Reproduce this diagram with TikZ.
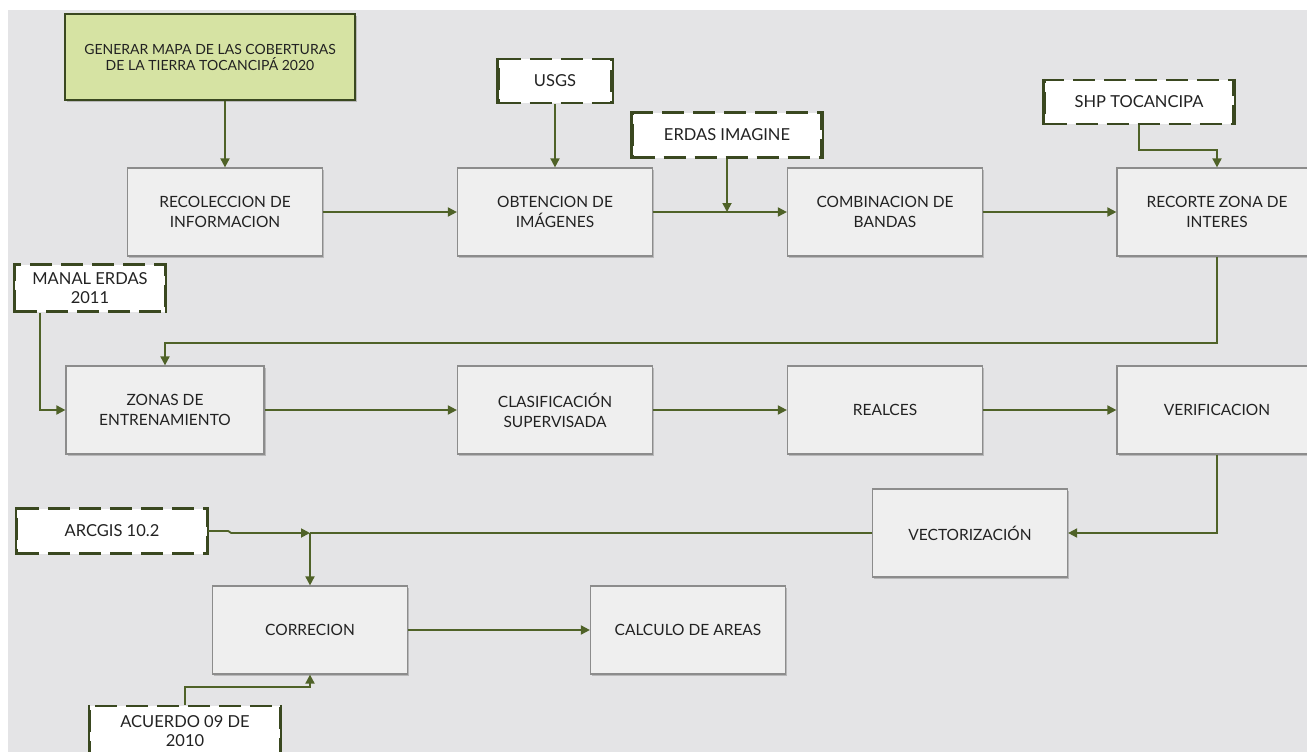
\documentclass[tikz,border=0pt]{standalone}
\usepackage{fontspec}
\setmainfont{Lato}
\usetikzlibrary{shadows,arrows.meta}
\definecolor{bg}{HTML}{E4E4E6}
\definecolor{boxfill}{HTML}{EFEFEF}
\definecolor{boxline}{HTML}{8C8C8C}
\definecolor{olive}{HTML}{4F6228}
\definecolor{darkolive}{HTML}{3A4820}
\definecolor{genfill}{HTML}{D6E3A3}
\definecolor{txt}{HTML}{222222}
\tikzset{
  proc/.style={rectangle, fill=boxfill, draw=boxline, line width=1.2pt,
    minimum width=195pt, minimum height=88pt, align=center, inner sep=0pt,
    font=\fontsize{15.5}{20}\selectfont, text=txt,
    drop shadow={shadow xshift=1.5pt, shadow yshift=-1.5pt, opacity=0.35, fill=black!60}},
  src/.style={rectangle, fill=white, draw=darkolive, line width=2.4pt,
    dash pattern=on 22pt off 9pt, align=center, inner sep=0pt,
    font=\fontsize{16.5}{19}\selectfont, text=txt},
  side/.style={draw=darkolive, line width=2.4pt},
  conn/.style={draw=olive, line width=1.8pt, -{Triangle[length=9pt,width=9pt]}},
  plain/.style={draw=olive, line width=1.8pt},
}
\newcommand{\srcsides}[1]{%
  \draw[side] (#1.north west) -- (#1.south west);
  \draw[side] (#1.north east) -- (#1.south east);}
\begin{document}
\begin{tikzpicture}[x=1pt,y=-1pt]
\useasboundingbox (0,0) rectangle (1307,752);
\fill[white] (0,0) rectangle (1307,752);
\fill[bg] (8,10) rectangle (1307,752);
\begin{scope}
\clip (0,0) rectangle (1307,752);
% main title
\node[rectangle, fill=genfill, draw=darkolive, line width=2.4pt, minimum width=290pt, minimum height=86pt,
  align=center, inner sep=0pt, font=\fontsize{14}{16}\selectfont, text=txt,
  drop shadow={shadow xshift=2pt, shadow yshift=-2pt, opacity=0.35, fill=black!60}]
  (gen) at (210,57) {GENERAR MAPA DE LAS COBERTURAS\\DE LA TIERRA TOCANCIPÁ 2020};
% row 1
\node[proc] (reco) at (225,212) {RECOLECCION DE\\INFORMACION};
\node[proc] (obt) at (555,212) {OBTENCION DE\\IMÁGENES};
\node[proc] (comb) at (885,212) {COMBINACION DE\\BANDAS};
\node[proc, minimum width=200pt] (rec) at (1217,212) {RECORTE ZONA DE\\INTERES};
% row 2
\node[proc, minimum width=198pt] (zon) at (165,410) {ZONAS DE\\ENTRENAMIENTO};
\node[proc] (cla) at (555,410) {CLASIFICACIÓN\\SUPERVISADA};
\node[proc] (rea) at (885,410) {REALCES};
\node[proc, minimum width=200pt] (ver) at (1217,410) {VERIFICACION};
% row 3/4
\node[proc] (vec) at (970,533) {VECTORIZACIÓN};
\node[proc] (cor) at (310,630) {CORRECION};
\node[proc] (cal) at (688,630) {CALCULO DE AREAS};
% sources
\node[src, minimum width=113pt, minimum height=44pt] (usgs) at (555,81) {USGS};
\node[src, minimum width=189pt, minimum height=45pt] (erd) at (727,135) {ERDAS IMAGINE};
\node[src, minimum width=189pt, minimum height=44pt] (shp) at (1139,102) {SHP TOCANCIPA};
\node[src, minimum width=150pt, minimum height=47pt] (man) at (90,288) {MANAL ERDAS\\2011};
\node[src, minimum width=190pt, minimum height=45pt] (arc) at (112,531) {ARCGIS 10.2};
\node[src, minimum width=190pt, minimum height=50pt] (acu) at (185,731) {ACUERDO 09 DE\\2010};
\srcsides{usgs}\srcsides{erd}\srcsides{shp}\srcsides{man}\srcsides{arc}\srcsides{acu}
% coordinates
\coordinate (j1) at (727,212);
\coordinate (j2) at (310,533);
% connectors
\draw[conn] (gen.south -| reco.north) -- (reco.north);
\draw[conn] (reco) -- (obt);
\draw[conn] (usgs) -- (obt);
\draw[conn] (obt) -- (comb);
\draw[conn] (erd) -- (j1);
\draw[conn] (comb) -- (rec);
\draw[conn] (shp.south) -- ++(0,25) -| (rec.north);
\draw[conn] (rec.south) -- ++(0,86) -| (zon.north);
\draw[conn] (man.south -| 40,0) |- (zon.west);
\draw[conn] (zon) -- (cla);
\draw[conn] (cla) -- (rea);
\draw[conn] (rea) -- (ver);
\draw[conn] (ver.south) |- (vec.east);
\draw[plain] (vec.west) -- (j2);
\draw[conn] (arc.east) -- ++(20,0) -- ++(3,2) |- (j2);
\draw[conn] (j2) -- (cor.north);
\draw[conn] (cor) -- (cal);
\draw[conn] (acu.north) |- ++(125,-18) -- (cor.south);
\end{scope}
\end{tikzpicture}
\end{document}
